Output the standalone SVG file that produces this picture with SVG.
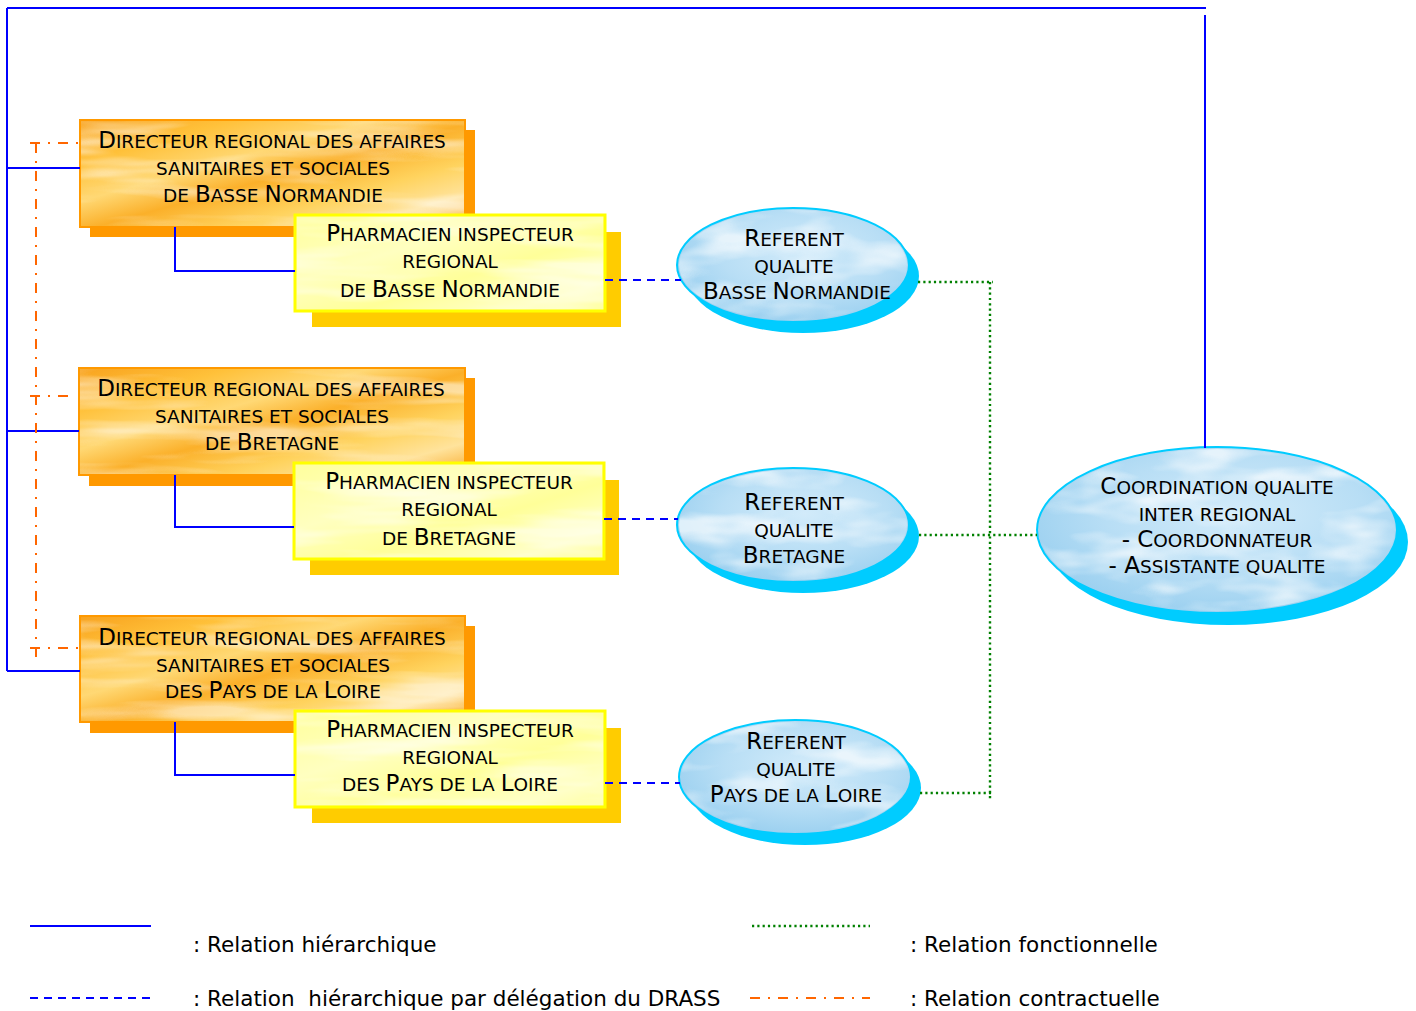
<svg xmlns="http://www.w3.org/2000/svg" width="1416" height="1011" viewBox="0 0 1416 1011">
  <defs>
    <linearGradient id="gold" x1="0" y1="0" x2="1" y2="1">
      <stop offset="0" stop-color="#F8A21E"/>
      <stop offset="0.2" stop-color="#FFC13A"/>
      <stop offset="0.38" stop-color="#FFD874"/>
      <stop offset="0.52" stop-color="#FBB02A"/>
      <stop offset="0.7" stop-color="#FFD35E"/>
      <stop offset="0.85" stop-color="#FFE39C"/>
      <stop offset="1" stop-color="#F9AA2A"/>
    </linearGradient>
    <linearGradient id="lemon" x1="0" y1="0" x2="1" y2="1">
      <stop offset="0" stop-color="#FFFF9C"/>
      <stop offset="0.35" stop-color="#FFFFC0"/>
      <stop offset="0.6" stop-color="#FFFF99"/>
      <stop offset="0.85" stop-color="#FFFFC8"/>
      <stop offset="1" stop-color="#FFFF9E"/>
    </linearGradient>
    <radialGradient id="sky" cx="0.55" cy="0.4" r="0.6">
      <stop offset="0" stop-color="#D2EBFA"/>
      <stop offset="0.6" stop-color="#B8DEF5"/>
      <stop offset="1" stop-color="#9DD1F0"/>
    </radialGradient>
    <!-- light streaks laid over the box fills -->
    <filter id="streaks" x="0" y="0" width="1" height="1">
      <feTurbulence type="fractalNoise" baseFrequency="0.006 0.05" numOctaves="3" seed="7" result="n"/>
      <feColorMatrix in="n" type="matrix" values="0 0 0 0 1  0 0 0 0 1  0 0 0 0 1  3.2 0 0 0 -1.5"/>
      <feComposite in2="SourceAlpha" operator="in"/>
    </filter>
    <!-- soft cloud patches for the ellipses -->
    <filter id="clouds" x="0" y="0" width="1" height="1">
      <feTurbulence type="fractalNoise" baseFrequency="0.012 0.035" numOctaves="3" seed="4" result="n"/>
      <feColorMatrix in="n" type="matrix" values="0 0 0 0 1  0 0 0 0 1  0 0 0 0 1  3 0 0 0 -1.35"/>
      <feComposite in2="SourceAlpha" operator="in"/>
    </filter>
  </defs>
  <style>
    .t { font-family: "DejaVu Sans", Verdana, sans-serif; font-size: 23px; fill: #000; text-anchor: middle; }
    .s { font-size: 18.5px; }
    .dir { fill: url(#gold); stroke: #FF9900; stroke-width: 2; }
    .dirsh { fill: #FF9900; }
    .ph { fill: url(#lemon); stroke: #FFFF00; stroke-width: 3; }
    .phsh { fill: #FFCC00; }
    .el { fill: url(#sky); stroke: #00CCFF; stroke-width: 2; }
    .elsh { fill: #00CCFF; }
    .tx { fill: #FFFFFF; filter: url(#streaks); opacity: 0.5; }
    .cl { fill: #FFFFFF; filter: url(#clouds); opacity: 0.65; }
    .h { stroke: #0000FF; stroke-width: 2; fill: none; }
    .d { stroke: #0000FF; stroke-width: 2; stroke-dasharray: 8 6; fill: none; }
    .f { stroke: #008000; stroke-width: 2.4; stroke-dasharray: 2.2 3.1; fill: none; }
    .c { stroke: #FF6600; stroke-width: 2; stroke-dasharray: 10 8 2 8; fill: none; }
    .leg { font-family: "DejaVu Sans", Verdana, sans-serif; font-size: 21.5px; fill: #000; white-space: pre; }
  </style>

  <rect width="1416" height="1011" fill="#FFFFFF"/>

  <!-- Directors (DRASS) -->
  <g id="drass-basse-normandie">
    <rect class="dirsh" x="90" y="130" width="385" height="107"/>
    <rect class="dir" x="80" y="120" width="385" height="107"/>
    <rect class="tx" x="81" y="121" width="383" height="105"/>
    <text class="t" x="272" y="148">D<tspan class="s">IRECTEUR REGIONAL DES AFFAIRES</tspan></text>
    <text class="t" x="273" y="175"><tspan class="s">SANITAIRES ET SOCIALES</tspan></text>
    <text class="t" x="273" y="202"><tspan class="s">DE </tspan>B<tspan class="s">ASSE </tspan>N<tspan class="s">ORMANDIE</tspan></text>
  </g>
  <g id="pharm-basse-normandie">
    <rect class="phsh" x="312" y="232" width="309" height="95"/>
    <rect class="ph" x="295" y="215" width="310" height="96"/>
    <rect class="tx" x="297" y="217" width="306" height="92"/>
    <text class="t" x="450" y="241">P<tspan class="s">HARMACIEN INSPECTEUR</tspan></text>
    <text class="t" x="450" y="268"><tspan class="s">REGIONAL</tspan></text>
    <text class="t" x="450" y="297"><tspan class="s">DE </tspan>B<tspan class="s">ASSE </tspan>N<tspan class="s">ORMANDIE</tspan></text>
  </g>

  <g id="drass-bretagne">
    <rect class="dirsh" x="89" y="378" width="386" height="108"/>
    <rect class="dir" x="79" y="368" width="386" height="107"/>
    <rect class="tx" x="80" y="369" width="384" height="105"/>
    <text class="t" x="271" y="396">D<tspan class="s">IRECTEUR REGIONAL DES AFFAIRES</tspan></text>
    <text class="t" x="272" y="423"><tspan class="s">SANITAIRES ET SOCIALES</tspan></text>
    <text class="t" x="272" y="450"><tspan class="s">DE </tspan>B<tspan class="s">RETAGNE</tspan></text>
  </g>
  <g id="pharm-bretagne">
    <rect class="phsh" x="310" y="480" width="309" height="95"/>
    <rect class="ph" x="294" y="463" width="310" height="96"/>
    <rect class="tx" x="296" y="465" width="306" height="92"/>
    <text class="t" x="449" y="489">P<tspan class="s">HARMACIEN INSPECTEUR</tspan></text>
    <text class="t" x="449" y="516"><tspan class="s">REGIONAL</tspan></text>
    <text class="t" x="449" y="545"><tspan class="s">DE </tspan>B<tspan class="s">RETAGNE</tspan></text>
  </g>

  <g id="drass-pays-de-la-loire">
    <rect class="dirsh" x="90" y="626" width="385" height="107"/>
    <rect class="dir" x="80" y="616" width="385" height="106"/>
    <rect class="tx" x="81" y="617" width="383" height="104"/>
    <text class="t" x="272" y="645">D<tspan class="s">IRECTEUR REGIONAL DES AFFAIRES</tspan></text>
    <text class="t" x="273" y="672"><tspan class="s">SANITAIRES ET SOCIALES</tspan></text>
    <text class="t" x="273" y="698"><tspan class="s">DES </tspan>P<tspan class="s">AYS DE LA </tspan>L<tspan class="s">OIRE</tspan></text>
  </g>
  <g id="pharm-pays-de-la-loire">
    <rect class="phsh" x="312" y="728" width="309" height="95"/>
    <rect class="ph" x="295" y="711" width="310" height="96"/>
    <rect class="tx" x="297" y="713" width="306" height="92"/>
    <text class="t" x="450" y="737">P<tspan class="s">HARMACIEN INSPECTEUR</tspan></text>
    <text class="t" x="450" y="764"><tspan class="s">REGIONAL</tspan></text>
    <text class="t" x="450" y="791"><tspan class="s">DES </tspan>P<tspan class="s">AYS DE LA </tspan>L<tspan class="s">OIRE</tspan></text>
  </g>

  <!-- Quality referents -->
  <g id="referent-basse-normandie">
    <ellipse class="elsh" cx="803" cy="276" rx="116" ry="57"/>
    <ellipse class="el" cx="793" cy="265" rx="116" ry="57"/>
    <ellipse class="cl" cx="793" cy="265" rx="114" ry="55"/>
    <text class="t" x="794" y="246">R<tspan class="s">EFERENT</tspan></text>
    <text class="t" x="794" y="273"><tspan class="s">QUALITE</tspan></text>
    <text class="t" x="797" y="299">B<tspan class="s">ASSE </tspan>N<tspan class="s">ORMANDIE</tspan></text>
  </g>
  <g id="referent-bretagne">
    <ellipse class="elsh" cx="803" cy="536" rx="116" ry="57"/>
    <ellipse class="el" cx="793" cy="525" rx="116" ry="57"/>
    <ellipse class="cl" cx="793" cy="525" rx="114" ry="55"/>
    <text class="t" x="794" y="510">R<tspan class="s">EFERENT</tspan></text>
    <text class="t" x="794" y="537"><tspan class="s">QUALITE</tspan></text>
    <text class="t" x="794" y="563">B<tspan class="s">RETAGNE</tspan></text>
  </g>
  <g id="referent-pays-de-la-loire">
    <ellipse class="elsh" cx="805" cy="788" rx="116" ry="57"/>
    <ellipse class="el" cx="795" cy="777" rx="116" ry="57"/>
    <ellipse class="cl" cx="795" cy="777" rx="114" ry="55"/>
    <text class="t" x="796" y="749">R<tspan class="s">EFERENT</tspan></text>
    <text class="t" x="796" y="776"><tspan class="s">QUALITE</tspan></text>
    <text class="t" x="796" y="802">P<tspan class="s">AYS DE LA </tspan>L<tspan class="s">OIRE</tspan></text>
  </g>

  <!-- Inter-regional coordination -->
  <g id="coordination">
    <ellipse class="elsh" cx="1228" cy="542" rx="180" ry="83"/>
    <ellipse class="el" cx="1217" cy="530" rx="180" ry="83"/>
    <ellipse class="cl" cx="1217" cy="530" rx="178" ry="81"/>
    <text class="t" x="1217" y="494">C<tspan class="s">OORDINATION QUALITE</tspan></text>
    <text class="t" x="1217" y="521"><tspan class="s">INTER REGIONAL</tspan></text>
    <text class="t" x="1217" y="547">- C<tspan class="s">OORDONNATEUR</tspan></text>
    <text class="t" x="1217" y="573">- A<tspan class="s">SSISTANTE QUALITE</tspan></text>
  </g>

  <!-- Connectors -->
  <g id="connectors">
    <path class="h" d="M7,8 H1206 M1205,15 V448 M7,8 V671 M7,168 H80 M7,431 H79 M7,671 H80"/>
    <path class="h" d="M175,227 V271 H295 M175,475 V527 H294 M175,722 V775 H295"/>
    <path class="d" d="M605,280 H681 M604,519 H678 M605,783 H680"/>
    <path class="f" d="M918,282 H993 M990,282 V800 M919,535 H1037 M920,793 H993"/>
    <path class="c" d="M30,143 H78 M30,396 H76 M30,648 H78 M36,143 V657"/>
  </g>

  <!-- Legend -->
  <g id="legend">
    <path class="h" d="M30,926 H151"/>
    <path class="d" d="M30,998 H150"/>
    <path class="f" d="M752,926 H870"/>
    <path class="c" d="M750,998 H870"/>
    <text class="leg" x="193" y="952">: Relation hiérarchique</text>
    <text class="leg" x="193" y="1006">: Relation  hiérarchique par délégation du DRASS</text>
    <text class="leg" x="910" y="952">: Relation fonctionnelle</text>
    <text class="leg" x="910" y="1006">: Relation contractuelle</text>
  </g>
</svg>
